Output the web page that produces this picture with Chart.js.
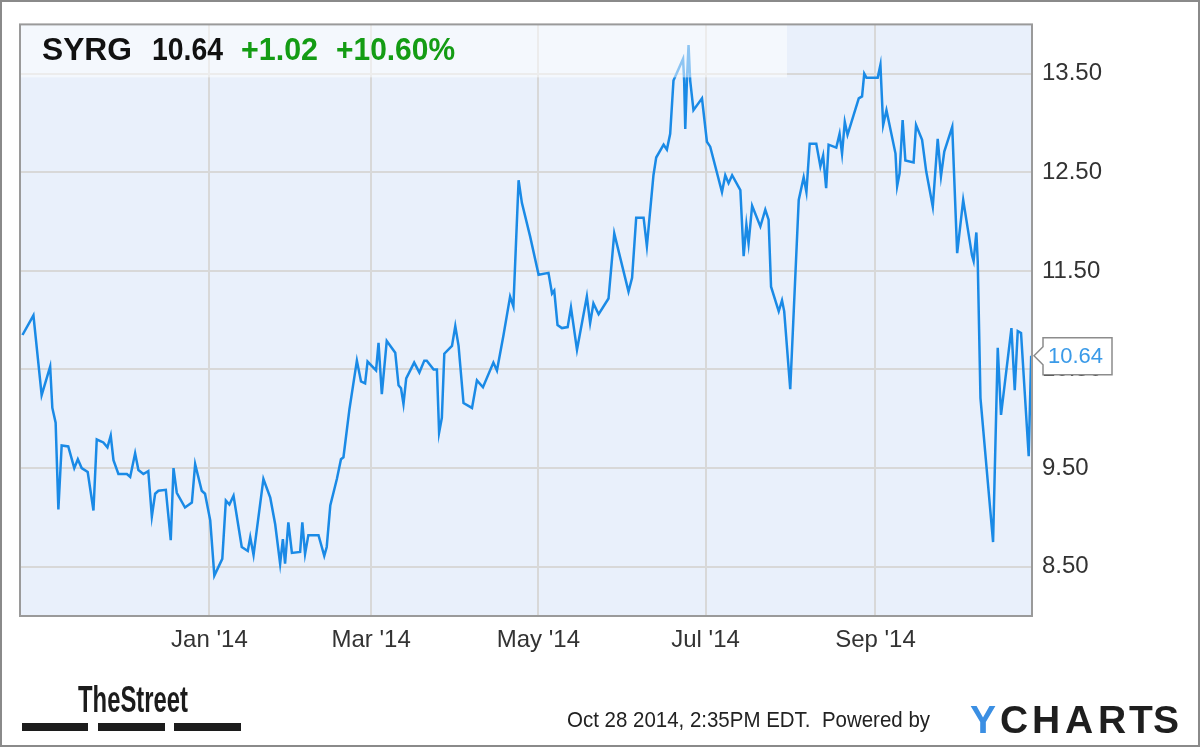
<!DOCTYPE html>
<html>
<head>
<meta charset="utf-8">
<script src="https://cdn.jsdelivr.net/npm/chart.js@4"></script>
<style>
  html, body { margin: 0; padding: 0; background: #fff; }
  canvas { display: block; }
</style>
</head>
<body>
<canvas id="stock-chart" width="1200" height="747"></canvas>
<script>
// x values are days counted from 2013-10-28
const days = [-3.2, 0.8, 3.8, 6.9, 7.7, 8.9, 9.9, 11.1, 13.5, 15.7, 17.0, 18.4, 20.6, 22.7, 23.9, 26.3, 27.8, 29.0, 30.0, 31.8,
    34.9, 36.1, 37.9, 39.1, 40.9, 42.7, 44.0, 45.2, 46.4, 49.1, 50.9, 51.9, 53.1, 56.1, 58.6, 59.8, 62.2, 63.4, 65.3, 66.8,
    69.7, 71.0, 72.3, 73.8, 76.8, 79.0, 79.9, 81.1, 84.7, 87.2,
    89.0, 90.8, 91.8, 92.6, 93.8, 95.1, 98.1, 98.9, 99.9, 101.1, 104.8, 106.9, 107.8, 109.1, 111.5, 113.0, 113.9, 116.1, 118.8, 120.3,
    121.8, 122.7, 125.8, 126.7, 127.9, 129.7, 132.8, 134.0, 134.9, 135.8, 136.8, 139.7, 141.6, 143.4, 144.3, 146.8, 148.0, 148.8, 149.8, 150.7,
    153.5, 154.7, 155.9, 157.7, 160.8, 162.6, 164.8, 168.6, 169.9, 172.3, 174.7, 175.9, 177.8, 179.0, 182.0, 185.1, 188.7, 190.0, 190.8, 192.0,
    193.6, 195.7, 196.9, 199.1, 201.5, 202.7, 203.9, 205.1, 207.0, 210.6, 212.7, 217.9, 219.2, 220.7, 223.4, 224.6, 225.6, 227.0, 228.0, 230.7,
    231.9, 233.1, 234.3, 237.8, 238.2, 238.6, 239.2, 239.8, 240.4, 241.6, 244.7, 246.5, 247.7, 252.0, 253.2, 254.4, 255.7, 258.7, 259.9, 260.9,
    261.7, 263.0, 266.0, 267.8, 269.0, 269.9, 272.7, 273.9, 274.7, 276.9,
    280.0, 281.8, 282.8, 284.0, 286.4, 287.9, 288.9, 290.0, 290.9, 293.7, 294.9, 295.8, 296.8, 297.8, 301.9, 303.1, 303.9, 304.7, 308.8, 309.8,
    310.8, 312.0, 315.3, 315.9, 316.8, 317.9, 318.9, 321.9, 322.8, 325.0, 326.5, 328.9, 330.7, 331.9, 333.1, 336.0, 337.8, 340.0, 343.2, 343.8,
    344.8, 345.3, 346.3, 350.9, 352.6, 353.8, 357.6, 358.8, 359.9, 361.1, 363.9, 364.8];

const prices = [10.85, 11.05, 10.24, 10.53, 10.11, 9.96, 9.08, 9.73, 9.72, 9.50, 9.59, 9.50, 9.46, 9.07, 9.79, 9.76, 9.71, 9.83, 9.58, 9.44,
    9.44, 9.41, 9.65, 9.48, 9.44, 9.47, 9.01, 9.24, 9.27, 9.28, 8.77, 9.50, 9.25, 9.10, 9.15, 9.54, 9.27, 9.24, 8.97, 8.41,
    8.58, 9.17, 9.13, 9.22, 8.70, 8.66, 8.80, 8.62, 9.39, 9.20,
    8.93, 8.53, 8.78, 8.53, 8.95, 8.64, 8.65, 8.95, 8.63, 8.82, 8.82, 8.61, 8.70, 9.12, 9.39, 9.59, 9.61, 10.10, 10.59, 10.38,
    10.36, 10.58, 10.49, 10.77, 10.25, 10.79, 10.67, 10.34, 10.31, 10.15, 10.41, 10.57, 10.47, 10.59, 10.59, 10.50, 10.50, 9.86, 10.01, 10.66,
    10.74, 10.94, 10.74, 10.16, 10.11, 10.39, 10.32, 10.57, 10.49, 10.85, 11.24, 11.14, 12.42, 12.19, 11.85, 11.46, 11.48, 11.27, 11.30, 10.95,
    10.92, 10.93, 11.13, 10.70, 11.06, 11.24, 10.97, 11.17, 11.06, 11.22, 11.88, 11.29, 11.43, 12.04, 12.04, 11.75, 12.05, 12.47, 12.65, 12.78,
    12.73, 12.89, 13.43, 13.65, 13.43, 12.94, 13.43, 13.79, 13.43, 13.13, 13.25, 12.81, 12.76, 12.30, 12.47, 12.39, 12.47, 12.32, 11.65, 11.97,
    11.78, 12.16, 11.95, 12.12, 12.02, 11.34, 11.09, 11.20, 11.09, 10.30,
    12.22, 12.45, 12.30, 12.79, 12.79, 12.56, 12.67, 12.34, 12.78, 12.75, 12.89, 12.69, 13.01, 12.88, 13.25, 13.27, 13.50, 13.46, 13.46, 13.59,
    12.98, 13.13, 12.69, 12.36, 12.49, 13.03, 12.62, 12.60, 12.98, 12.83, 12.51, 12.15, 12.84, 12.46, 12.71, 12.96, 11.68, 12.22, 11.66, 11.60,
    11.89, 11.60, 10.21, 8.75, 10.72, 10.04, 10.92, 10.29, 10.89, 10.87, 9.62, 10.64];

const monthTickDays = [65, 124, 185, 246, 308];
const monthTickLabels = ["Jan '14", "Mar '14", "May '14", "Jul '14", "Sep '14"];
const priceTicks = [8.5, 9.5, 10.5, 11.5, 12.5, 13.5];

const ticker = 'SYRG';
const lastPrice = '10.64';
const change = '+1.02';
const changePct = '+10.60%';
const stamp = 'Oct 28 2014, 2:35PM EDT.  Powered by';

const FONT = '"Liberation Sans", Arial, sans-serif';
const LINE_BLUE = '#1a8ae6';

// draw text squeezed or stretched to a given width
function fitText(ctx, text, x, y, width) {
    const w = ctx.measureText(text).width;
    ctx.save();
    ctx.translate(x, y);
    ctx.scale(width / w, 1);
    ctx.fillText(text, 0, 0);
    ctx.restore();
}

const decorations = {
    id: 'decorations',
    beforeDraw(chart) {
        const { ctx, chartArea: a } = chart;
        ctx.save();
        ctx.fillStyle = '#fff';
        ctx.fillRect(0, 0, chart.width, chart.height);
        ctx.fillStyle = '#e9f0fb';
        ctx.fillRect(a.left, a.top, a.right - a.left, a.bottom - a.top);
        ctx.restore();
    },
    afterDatasetsDraw(chart) {
        const { ctx, chartArea: a } = chart;
        ctx.save();
        // quote band sits on top of the line, so the line shows through paler
        ctx.fillStyle = 'rgba(255,255,255,0.5)';
        ctx.fillRect(a.left, a.top, 767, 53);

        ctx.font = 'bold 31px ' + FONT;
        ctx.textBaseline = 'alphabetic';
        ctx.fillStyle = '#111';
        fitText(ctx, ticker, 42, 60, 90);
        fitText(ctx, lastPrice, 152, 60, 71);
        ctx.fillStyle = '#149c14';
        fitText(ctx, change, 241, 60, 77);
        fitText(ctx, changePct, 336, 60, 119);

        // plot frame
        ctx.strokeStyle = '#9a9a9a';
        ctx.lineWidth = 2;
        ctx.strokeRect(a.left, a.top, a.right - a.left, a.bottom - a.top);
        ctx.restore();
    },
    afterDraw(chart) {
        const { ctx, chartArea: a } = chart;
        const y = chart.scales.y.getPixelForValue(prices[prices.length - 1]);
        ctx.save();

        // last value tag
        ctx.beginPath();
        ctx.moveTo(a.right + 2, y);
        ctx.lineTo(a.right + 11, y - 9);
        ctx.lineTo(a.right + 11, y - 18);
        ctx.lineTo(a.right + 80, y - 18);
        ctx.lineTo(a.right + 80, y + 19);
        ctx.lineTo(a.right + 11, y + 19);
        ctx.lineTo(a.right + 11, y + 9);
        ctx.closePath();
        ctx.fillStyle = '#fff';
        ctx.fill();
        ctx.strokeStyle = '#8c8c8c';
        ctx.lineWidth = 1.5;
        ctx.stroke();
        ctx.font = '22px ' + FONT;
        ctx.fillStyle = '#3a9ae8';
        ctx.textBaseline = 'middle';
        ctx.fillText(lastPrice, a.right + 16, y + 1);

        // TheStreet logo
        ctx.fillStyle = '#1c1c1c';
        ctx.font = 'bold 36px ' + FONT;
        ctx.textBaseline = 'alphabetic';
        fitText(ctx, 'TheStreet', 78, 712, 110);
        [[22, 88], [98, 165], [174, 241]].forEach(([x0, x1]) => {
            ctx.fillRect(x0, 723, x1 - x0, 8);
        });

        // timestamp and YCharts logo
        ctx.fillStyle = '#222';
        ctx.font = '22px ' + FONT;
        fitText(ctx, stamp, 567, 727, 363);

        ctx.font = 'bold 39px ' + FONT;
        ctx.textAlign = 'center';
        const letters = ['Y', 'C', 'H', 'A', 'R', 'T', 'S'];
        const centers = [983, 1014, 1046, 1079, 1112, 1141, 1166];
        letters.forEach((ch, i) => {
            ctx.fillStyle = i === 0 ? '#3b8fe3' : '#1e1e1e';
            ctx.fillText(ch, centers[i], 733);
        });

        // outer frame
        ctx.strokeStyle = '#8a8a8a';
        ctx.lineWidth = 2;
        ctx.strokeRect(1, 1, chart.width - 2, chart.height - 2);
        ctx.restore();
    }
};

const ctx = document.getElementById('stock-chart').getContext('2d');
const stockChart = new Chart(ctx, {
    type: 'line',
    data: {
        datasets: [{
            data: days.map((d, i) => ({ x: d, y: prices[i] })),
            borderColor: LINE_BLUE,
            borderWidth: 2.5,
            pointRadius: 0,
            tension: 0,
            fill: false
        }]
    },
    options: {
        responsive: false,
        animation: false,
        devicePixelRatio: 1,
        layout: { padding: { left: 20, top: 22, right: 0, bottom: 0 } },
        plugins: {
            legend: { display: false },
            tooltip: { enabled: false }
        },
        scales: {
            x: {
                type: 'linear',
                min: -4.1,
                max: 365.1,
                afterBuildTicks: scale => {
                    scale.ticks = monthTickDays.map(v => ({ value: v }));
                },
                afterFit: scale => { scale.height = 131; },
                grid: { color: '#d8d8d8', lineWidth: 2, drawTicks: false },
                border: { display: false },
                ticks: {
                    autoSkip: false,
                    maxRotation: 0,
                    padding: 10,
                    color: '#333',
                    font: { size: 24, family: FONT },
                    callback: value => monthTickLabels[monthTickDays.indexOf(value)]
                }
            },
            y: {
                position: 'right',
                min: 8,
                max: 14,
                afterBuildTicks: scale => {
                    scale.ticks = priceTicks.map(v => ({ value: v }));
                },
                afterFit: scale => { scale.width = 168; },
                grid: { color: '#d8d8d8', lineWidth: 2, drawTicks: false },
                border: { display: false },
                ticks: {
                    padding: 10,
                    color: '#333',
                    font: { size: 24, family: FONT },
                    callback: value => value.toFixed(2)
                }
            }
        }
    },
    plugins: [decorations]
});
</script>
</body>
</html>
